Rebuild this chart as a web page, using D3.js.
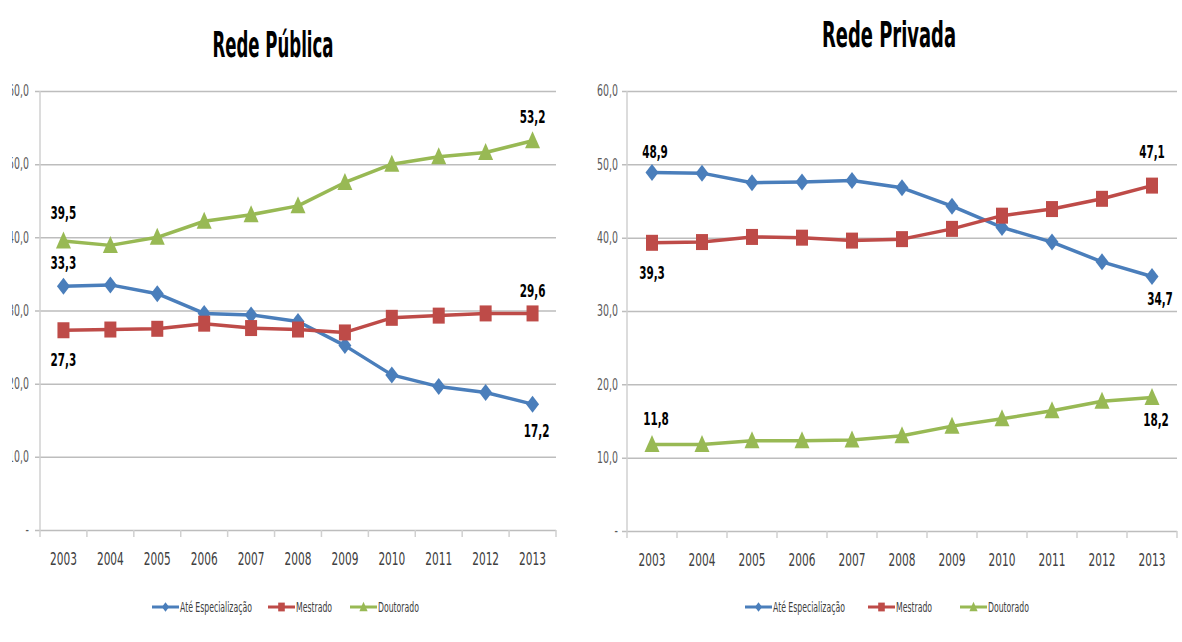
<!DOCTYPE html>
<html><head><meta charset="utf-8">
<script src="https://cdn.jsdelivr.net/npm/d3@7"></script>
<style>
html,body{margin:0;padding:0;background:#fff;overflow:hidden}
text{font-family:"Liberation Sans Narrow","DejaVu Sans Condensed","Open Sans",sans-serif}
</style></head>
<body><svg id="c" width="1182" height="642"></svg>
<script>
const years = ["2003","2004","2005","2006","2007","2008","2009","2010","2011","2012","2013"];
const seriesNames = ["Até Especialização","Mestrado","Doutorado"];
const pubAte      = [33.3,33.5,32.3,29.6,29.4,28.5,25.2,21.2,19.6,18.8,17.2];
const pubMestrado = [27.3,27.4,27.5,28.2,27.6,27.4,27.0,29.0,29.3,29.6,29.6];
const pubDout     = [39.5,38.9,40.0,42.2,43.1,44.3,47.5,50.0,51.0,51.6,53.2];
const privAte      = [48.9,48.8,47.5,47.6,47.8,46.8,44.3,41.4,39.4,36.7,34.7];
const privMestrado = [39.3,39.4,40.1,40.0,39.6,39.8,41.2,43.0,43.9,45.3,47.1];
const privDout     = [11.8,11.8,12.3,12.3,12.4,13.0,14.3,15.3,16.4,17.7,18.2];
const yTicks = [0,10,20,30,40,50,60];
const titles = ["Rede Pública","Rede Privada"];

const colors = ["#4a7ebb","#be4b48","#98b954"];
const fmt = v => v===0 ? "-" : d3.format(".1f")(v).replace(".",",");
const svg = d3.select("#c");
svg.append("defs").append("clipPath").attr("id","lclip").append("rect").attr("x",12).attr("y",0).attr("width",600).attr("height",642);

function marker(g, type, x, y, col, s){
  s = s||1;
  if(type===0) g.append("path").attr("d",`M${x},${y-8.5*s}L${x+6.5*s},${y}L${x},${y+8.5*s}L${x-6.5*s},${y}Z`).attr("fill",col);
  else if(type===1) g.append("rect").attr("x",x-6*s).attr("y",y-8*s).attr("width",12*s).attr("height",16*s).attr("fill",col);
  else g.append("path").attr("d",`M${x},${y-9.5*s}L${x+7.5*s},${y+7.5*s}L${x-7.5*s},${y+7.5*s}Z`).attr("fill",col);
}
function stxt(g, x, y, str, fs, sx, sy, opts){
  opts = opts||{};
  const t = g.append("text").attr("transform",`translate(${x},${y}) scale(${sx},${sy})`)
    .attr("font-size",fs).attr("text-anchor",opts.anchor||"middle")
    .attr("fill",opts.fill||"#000").attr("font-weight",opts.bold?"bold":"normal")
    .attr("dominant-baseline",opts.base||"auto").text(str);
  if(opts.len) t.attr("textLength",opts.len).attr("lengthAdjust","spacingAndGlyphs");
  return t;
}

function panel(cfg){
  const g = svg.append("g");
  const x = d3.scaleBand().domain(years).range([cfg.x0,cfg.x1]);
  const y = d3.scaleLinear().domain([0,60]).range([cfg.yb,cfg.yt]);
  // gridlines
  const ga = g.append("g").attr("transform",`translate(${cfg.x0},0)`)
    .call(d3.axisLeft(y).tickValues(yTicks).tickSize(-(cfg.x1-cfg.x0)).tickFormat(""));
  ga.select(".domain").remove();
  ga.selectAll(".tick line").attr("stroke","#bdbdbd").attr("stroke-width",1.5).attr("x2",cfg.x1-cfg.x0).attr("x1",-5);
  // y labels
  const yl = g.append("g");
  if(cfg.clip) yl.attr("clip-path","url(#lclip)");
  yTicks.forEach(v=>{
    stxt(yl, cfg.labX, y(v), fmt(v), 12, 0.87, 1.25, {anchor:"end", fill:"#595959", base:"central"});
  });
  // vertical axis
  g.append("line").attr("x1",cfg.x0).attr("x2",cfg.x0).attr("y1",cfg.yt).attr("y2",cfg.yb+7)
    .attr("stroke","#d0d0d0").attr("stroke-width",1.5);
  // x ticks between categories
  years.forEach((d,i)=>{
    if(i===0) return;
    const xx = x(d);
    g.append("line").attr("x1",xx).attr("x2",xx).attr("y1",cfg.yb).attr("y2",cfg.yb+7)
      .attr("stroke","#d0d0d0").attr("stroke-width",1.5);
  });
  g.append("line").attr("x1",cfg.x1).attr("x2",cfg.x1).attr("y1",cfg.yb).attr("y2",cfg.yb+7)
      .attr("stroke","#d0d0d0").attr("stroke-width",1.5);
  // x labels
  years.forEach(d=>{
    stxt(g, x(d)+x.bandwidth()/2, cfg.yb+35, d, 13.5, 0.87, 1.35, {fill:"#404040"});
  });
  // series
  const cx = d => x(d)+x.bandwidth()/2;
  cfg.series.forEach((vals,si)=>{
    const line = d3.line().x((v,i)=>cx(years[i])).y(v=>y(v));
    g.append("path").attr("d",line(vals)).attr("fill","none").attr("stroke",colors[si]).attr("stroke-width",3.5).attr("stroke-linejoin","round");
    vals.forEach((v,i)=>marker(g, si, cx(years[i]), y(v), colors[si]));
  });
  // data labels
  cfg.labels.forEach(l=>{
    const v = cfg.series[l.s][l.i];
    stxt(g, cx(years[l.i])+(l.dx||0), y(v)+l.dy, fmt(v), 14.5, 0.8, 1.25, {bold:true, base:"central"});
  });
  // title
  stxt(g, cfg.titleX, cfg.titleY, cfg.title, 26, 1, 1.35, {bold:true, len:cfg.titleLen});
  // legend
  cfg.legend.forEach((lx,si)=>{
    g.append("line").attr("x1",lx).attr("x2",lx+27).attr("y1",607).attr("y2",607).attr("stroke",colors[si]).attr("stroke-width",3);
    marker(g, si, lx+13.5, 607, colors[si], 0.55);
    stxt(g, lx+28, 607, seriesNames[si], 10, 0.86, 1.45, {anchor:"start", fill:"#404040", base:"central"});
  });
}

panel({x0:40, x1:556, yb:530, yt:91, labX:29, clip:true, title:titles[0], titleX:273, titleY:57, titleLen:121,
  series:[pubAte,pubMestrado,pubDout],
  labels:[{s:2,i:0,dy:-28},{s:0,i:0,dy:-23},{s:1,i:0,dy:30},{s:2,i:10,dy:-24},{s:1,i:10,dy:-22},{s:0,i:10,dy:27,dx:4}],
  legend:[152,268,350]});
panel({x0:627, x1:1177, yb:531, yt:91, labX:618, title:titles[1], titleX:889, titleY:47, titleLen:134,
  series:[privAte,privMestrado,privDout],
  labels:[{s:0,i:0,dy:-20,dx:3},{s:1,i:0,dy:30},{s:1,i:10,dy:-34},{s:0,i:10,dy:23,dx:8},{s:2,i:0,dy:-25,dx:4},{s:2,i:10,dy:23,dx:4}],
  legend:[745,868,960]});
</script></body></html>
